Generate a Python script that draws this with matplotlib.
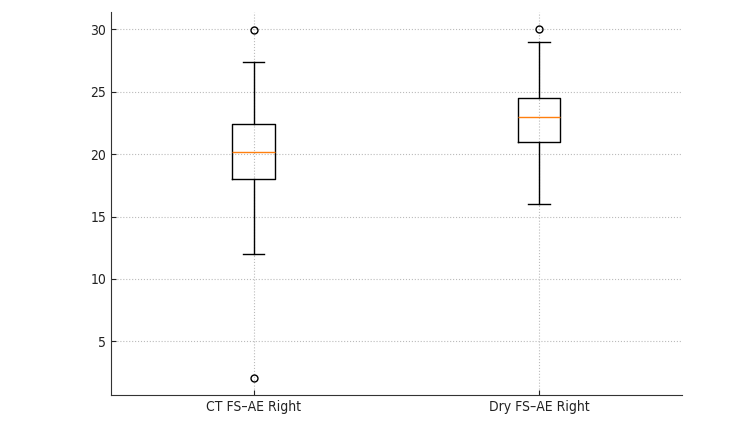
import matplotlib
matplotlib.use("Agg")
import matplotlib.pyplot as plt

plt.rcParams['font.family'] = ['DejaVu Sans']
plt.rcParams['font.stretch'] = 'condensed'

labels = ["CT FS–AE Right", "Dry FS–AE Right"]
q1 = [18.0, 21.0]
med = [20.2, 23.0]
q3 = [22.4, 24.5]
whislo = [12.0, 16.0]
whishi = [27.4, 29.0]
fliers = [[29.9, 2.1], [30.0]]

stats = []
for i in range(len(labels)):
    stats.append(dict(label=labels[i], q1=q1[i], med=med[i], q3=q3[i],
                      whislo=whislo[i], whishi=whishi[i], fliers=fliers[i]))

fig = plt.figure(figsize=(7.5, 4.22), dpi=100)
ax = fig.add_axes([0.148, 0.064, 0.761, 0.908])
ax.bxp(stats, flierprops=dict(marker='o', markersize=5, markerfacecolor='none'))
ax.grid(True, linestyle=':', color='#bbbbbb', linewidth=0.8)
ax.set_axisbelow(True)
for s in ['top', 'right']:
    ax.spines[s].set_visible(False)
for s in ['left', 'bottom']:
    ax.spines[s].set_color('#333333')
ax.tick_params(labelsize=10, colors='#222222', direction='in')
for lab in ax.get_xticklabels() + ax.get_yticklabels():
    lab.set_fontstretch('condensed')
fig.savefig("out.png", dpi=100)
